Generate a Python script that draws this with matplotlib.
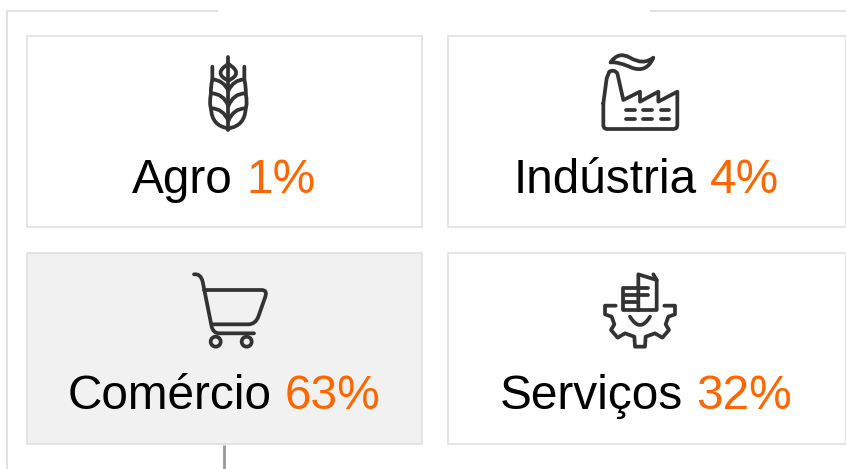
import matplotlib
matplotlib.use("Agg")
import matplotlib.pyplot as plt
from matplotlib.path import Path
from matplotlib.patches import PathPatch, Rectangle, Circle

categories = ["Agro", "Indústria", "Comércio", "Serviços"]
values = [1, 4, 63, 32]
highlighted = "Comércio"

BORDER = "#dedede"
ICON = "#333333"
ORANGE = "#ff6600"
FONT = ["Liberation Sans", "DejaVu Sans"]
ICON_LW = 2.7
SIZE = 34.4

plt.rcParams["font.family"] = FONT

fig = plt.figure(figsize=(8.46, 4.69), dpi=100)
ax = fig.add_axes([0, 0, 1, 1])
ax.set_xlim(0, 846)
ax.set_ylim(469, 0)
ax.axis("off")

# panel boxes, in pixels: left, top, width, height
boxes = [(26.5, 36.5, 395, 191), (447.5, 36.5, 398, 191),
         (26.5, 253.5, 395, 191), (447.5, 253.5, 398, 191)]
baselines = [193, 193, 409, 409]
centers = [224, 646, 224, 646]


def draw(points, ox, oy):
    # points are in zoomed-crop units (3x), a 3-tuple entry is (ctrl_x, ctrl_y, "q") before its end point
    verts = []
    codes = []
    i = 0
    while i < len(points):
        p = points[i]
        if len(p) == 3:
            end = points[i + 1]
            verts += [(p[0], p[1]), (end[0], end[1])]
            codes += [Path.CURVE3, Path.CURVE3]
            i += 2
        else:
            verts.append(p)
            codes.append(Path.MOVETO if i == 0 else Path.LINETO)
            i += 1
    verts = [(ox + x / 3, oy + y / 3) for x, y in verts]
    ax.add_patch(PathPatch(Path(verts, codes), fill=False, ec=ICON, lw=ICON_LW,
                           capstyle="round", joinstyle="round", zorder=3))


def wheat(ox, oy):
    draw([(175, 50), (175, 270)], ox, oy)
    draw([(175, 72), (128, 100, "q"), (175, 122), (222, 100, "q"), (175, 72)], ox, oy)
    for sign in (-1, 1):
        x = lambda d: 175 + sign * d
        draw([(x(48), 80), (x(48), 118), (x(54), 145, "q"), (x(52), 160),
              (x(58), 190, "q"), (x(52), 205), (x(50), 258, "q"), (175, 265)], ox, oy)
        draw([(x(48), 118), (x(15), 120, "q"), (175, 152)], ox, oy)
        draw([(x(52), 160), (x(15), 160, "q"), (175, 198)], ox, oy)
        draw([(x(52), 205), (x(15), 205, "q"), (175, 243)], ox, oy)


def factory(ox, oy):
    draw([(62, 52), (85, 18, "q"), (120, 38), (160, 62, "q"), (190, 38),
          (170, 85, "q"), (125, 68), (85, 50, "q"), (62, 52)], ox, oy)
    draw([(40, 175), (40, 240), (40, 252, "q"), (52, 252), (250, 252), (262, 252, "q"), (262, 240),
          (262, 140), (205, 170), (205, 140), (150, 170), (150, 140), (100, 165), (82, 85),
          (72, 72, "q"), (58, 80), (50, 100), (40, 175)], ox, oy)
    for y in (195, 222):
        for x0, x1 in ((108, 135), (158, 185), (212, 238)):
            draw([(x0, y), (x1, y)], ox, oy)


def cart(ox, oy):
    draw([(42, 28), (62, 25, "q"), (68, 50), (95, 185), (100, 205, "q"), (118, 205), (222, 205)], ox, oy)
    draw([(72, 75), (245, 75), (264, 75, "q"), (255, 98), (235, 155),
          (226, 178, "q"), (205, 178), (95, 178)], ox, oy)
    for cx in (107, 200):
        ax.add_patch(Circle((ox + cx / 3, oy + 230 / 3), 5, fill=False, ec=ICON, lw=ICON_LW, zorder=3))


def gear(ox, oy):
    draw([(62, 122), (30, 122), (30, 148), (50, 155), (58, 178), (48, 195), (68, 218),
          (90, 205), (118, 215), (120, 245), (150, 245), (152, 215), (180, 205),
          (202, 218), (222, 195), (212, 178), (220, 155), (240, 148), (240, 122), (208, 122)], ox, oy)
    draw([(130, 135), (85, 135), (85, 68), (130, 68)], ox, oy)
    draw([(130, 135), (185, 135), (185, 45), (130, 28), (130, 135)], ox, oy)
    draw([(175, 28), (185, 45)], ox, oy)
    draw([(130, 68), (160, 68)], ox, oy)
    draw([(90, 90), (160, 90)], ox, oy)
    draw([(90, 112), (125, 112)], ox, oy)
    draw([(105, 155), (135, 205, "q"), (165, 155)], ox, oy)


# outer frame, only partly visible
ax.plot([6.5, 6.5, 218], [469, 11.5, 11.5], color=BORDER, lw=1.3, solid_joinstyle="miter", solid_capstyle="butt")
ax.plot([650, 846], [11.5, 11.5], color=BORDER, lw=1.3, solid_capstyle="butt")
# connector below the highlighted box
ax.plot([223.5, 223.5], [445, 469], color="#999999", lw=2, solid_capstyle="butt")

renderer = fig.canvas.get_renderer()
for cat, val, box, cx, base in zip(categories, values, boxes, centers, baselines):
    face = "#f1f1f1" if cat == highlighted else "white"
    ax.add_patch(Rectangle(box[:2], box[2], box[3], fc=face, ec=BORDER, lw=1.1, zorder=1))
    pct = f"{val}%"
    whole = ax.text(0, 0, f"{cat} {pct}", fontsize=SIZE)
    w = whole.get_window_extent(renderer).width
    whole.remove()
    ax.text(cx - w / 2, base, cat, fontsize=SIZE, color="black", ha="left", va="baseline", zorder=4)
    ax.text(cx + w / 2, base, pct, fontsize=SIZE, color=ORANGE, ha="right", va="baseline", zorder=4)

wheat(170, 40)
factory(590, 45)
cart(180, 265)
gear(595, 265)

fig.savefig("out.png", dpi=100)
